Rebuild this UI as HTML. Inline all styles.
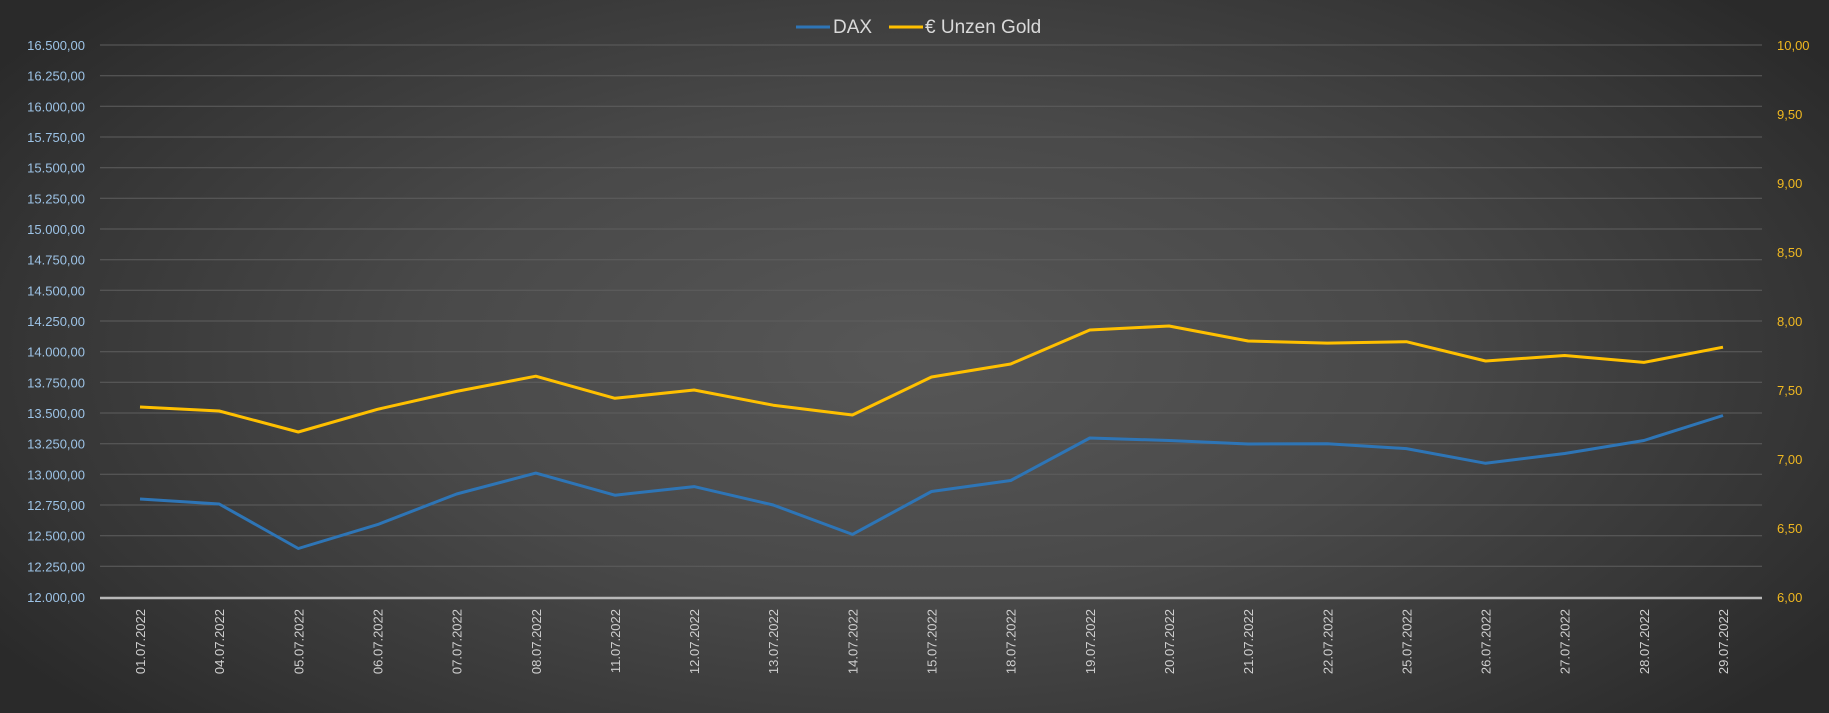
<!DOCTYPE html>
<html><head><meta charset="utf-8"><style>
html,body{margin:0;padding:0;}
body{width:1829px;height:713px;overflow:hidden;background:radial-gradient(ellipse 60% 75% at 50% 50%,#575757 0%,#494949 45%,#363636 80%,#2a2a2a 100%);}
svg{display:block;font-family:"Liberation Sans","DejaVu Sans",sans-serif;}
</style></head><body>
<svg width="1829" height="713" xmlns="http://www.w3.org/2000/svg">
<g stroke="#5e5e5e" stroke-width="1">
<line x1="100" x2="1762" y1="45" y2="45"/><line x1="100" x2="1762" y1="75.7" y2="75.7"/><line x1="100" x2="1762" y1="106.3" y2="106.3"/><line x1="100" x2="1762" y1="137" y2="137"/><line x1="100" x2="1762" y1="167.7" y2="167.7"/><line x1="100" x2="1762" y1="198.3" y2="198.3"/><line x1="100" x2="1762" y1="229" y2="229"/><line x1="100" x2="1762" y1="259.7" y2="259.7"/><line x1="100" x2="1762" y1="290.3" y2="290.3"/><line x1="100" x2="1762" y1="321" y2="321"/><line x1="100" x2="1762" y1="351.7" y2="351.7"/><line x1="100" x2="1762" y1="382.3" y2="382.3"/><line x1="100" x2="1762" y1="413" y2="413"/><line x1="100" x2="1762" y1="443.7" y2="443.7"/><line x1="100" x2="1762" y1="474.3" y2="474.3"/><line x1="100" x2="1762" y1="505" y2="505"/><line x1="100" x2="1762" y1="535.7" y2="535.7"/><line x1="100" x2="1762" y1="566.3" y2="566.3"/>
</g>
<line x1="100" x2="1762" y1="598" y2="598" stroke="#b8b8b8" stroke-width="2.5"/>
<g fill="#9dc3e6" font-size="13" text-anchor="end">
<text x="85" y="50">16.500,00</text><text x="85" y="80.7">16.250,00</text><text x="85" y="111.3">16.000,00</text><text x="85" y="142">15.750,00</text><text x="85" y="172.7">15.500,00</text><text x="85" y="203.3">15.250,00</text><text x="85" y="234">15.000,00</text><text x="85" y="264.7">14.750,00</text><text x="85" y="295.3">14.500,00</text><text x="85" y="326">14.250,00</text><text x="85" y="356.7">14.000,00</text><text x="85" y="387.3">13.750,00</text><text x="85" y="418">13.500,00</text><text x="85" y="448.7">13.250,00</text><text x="85" y="479.3">13.000,00</text><text x="85" y="510">12.750,00</text><text x="85" y="540.7">12.500,00</text><text x="85" y="571.3">12.250,00</text><text x="85" y="602">12.000,00</text>
</g>
<g fill="#f0b820" font-size="13">
<text x="1777" y="50">10,00</text><text x="1777" y="119">9,50</text><text x="1777" y="188">9,00</text><text x="1777" y="257">8,50</text><text x="1777" y="326">8,00</text><text x="1777" y="395">7,50</text><text x="1777" y="464">7,00</text><text x="1777" y="533">6,50</text><text x="1777" y="602">6,00</text>
</g>
<g fill="#cfcfcf" font-size="13" text-anchor="end">
<text transform="translate(145,609) rotate(-90)">01.07.2022</text>
<text transform="translate(224.2,609) rotate(-90)">04.07.2022</text>
<text transform="translate(303.3,609) rotate(-90)">05.07.2022</text>
<text transform="translate(382.5,609) rotate(-90)">06.07.2022</text>
<text transform="translate(461.6,609) rotate(-90)">07.07.2022</text>
<text transform="translate(540.8,609) rotate(-90)">08.07.2022</text>
<text transform="translate(619.9,609) rotate(-90)">11.07.2022</text>
<text transform="translate(699.1,609) rotate(-90)">12.07.2022</text>
<text transform="translate(778.2,609) rotate(-90)">13.07.2022</text>
<text transform="translate(857.4,609) rotate(-90)">14.07.2022</text>
<text transform="translate(936.5,609) rotate(-90)">15.07.2022</text>
<text transform="translate(1015.7,609) rotate(-90)">18.07.2022</text>
<text transform="translate(1094.8,609) rotate(-90)">19.07.2022</text>
<text transform="translate(1174,609) rotate(-90)">20.07.2022</text>
<text transform="translate(1253.1,609) rotate(-90)">21.07.2022</text>
<text transform="translate(1332.3,609) rotate(-90)">22.07.2022</text>
<text transform="translate(1411.4,609) rotate(-90)">25.07.2022</text>
<text transform="translate(1490.6,609) rotate(-90)">26.07.2022</text>
<text transform="translate(1569.7,609) rotate(-90)">27.07.2022</text>
<text transform="translate(1648.9,609) rotate(-90)">28.07.2022</text>
<text transform="translate(1728,609) rotate(-90)">29.07.2022</text>
</g>
<polyline fill="none" stroke="#2e75b6" stroke-width="3" stroke-linejoin="round" points="140,499 219.2,504 298.3,548.5 377.5,524.6 456.6,494 535.8,473.1 614.9,495.2 694.1,486.6 773.2,505 852.4,534.4 931.5,491.5 1010.7,480.5 1089.8,438 1169,440.5 1248.1,444 1327.3,443.7 1406.4,448.6 1485.6,463.3 1564.7,453.5 1643.9,440.5 1723,415.5"/>
<polyline fill="none" stroke="#ffc000" stroke-width="3" stroke-linejoin="round" points="140,407 219.2,411 298.3,432 377.5,409.3 456.6,391.4 535.8,376.2 614.9,398.3 694.1,390 773.2,405.2 852.4,415 931.5,377 1010.7,364 1089.8,330 1169,326 1248.1,341 1327.3,343.1 1406.4,341.7 1485.6,361 1564.7,355.5 1643.9,362.4 1723,347.2"/>
<line x1="796" x2="830" y1="27" y2="27" stroke="#2e75b6" stroke-width="3"/>
<text x="833" y="33" fill="#d9d9d9" font-size="19">DAX</text>
<line x1="889" x2="923" y1="27" y2="27" stroke="#ffc000" stroke-width="3"/>
<text x="925" y="33" fill="#d9d9d9" font-size="19">€ Unzen Gold</text>
</svg>
</body></html>
